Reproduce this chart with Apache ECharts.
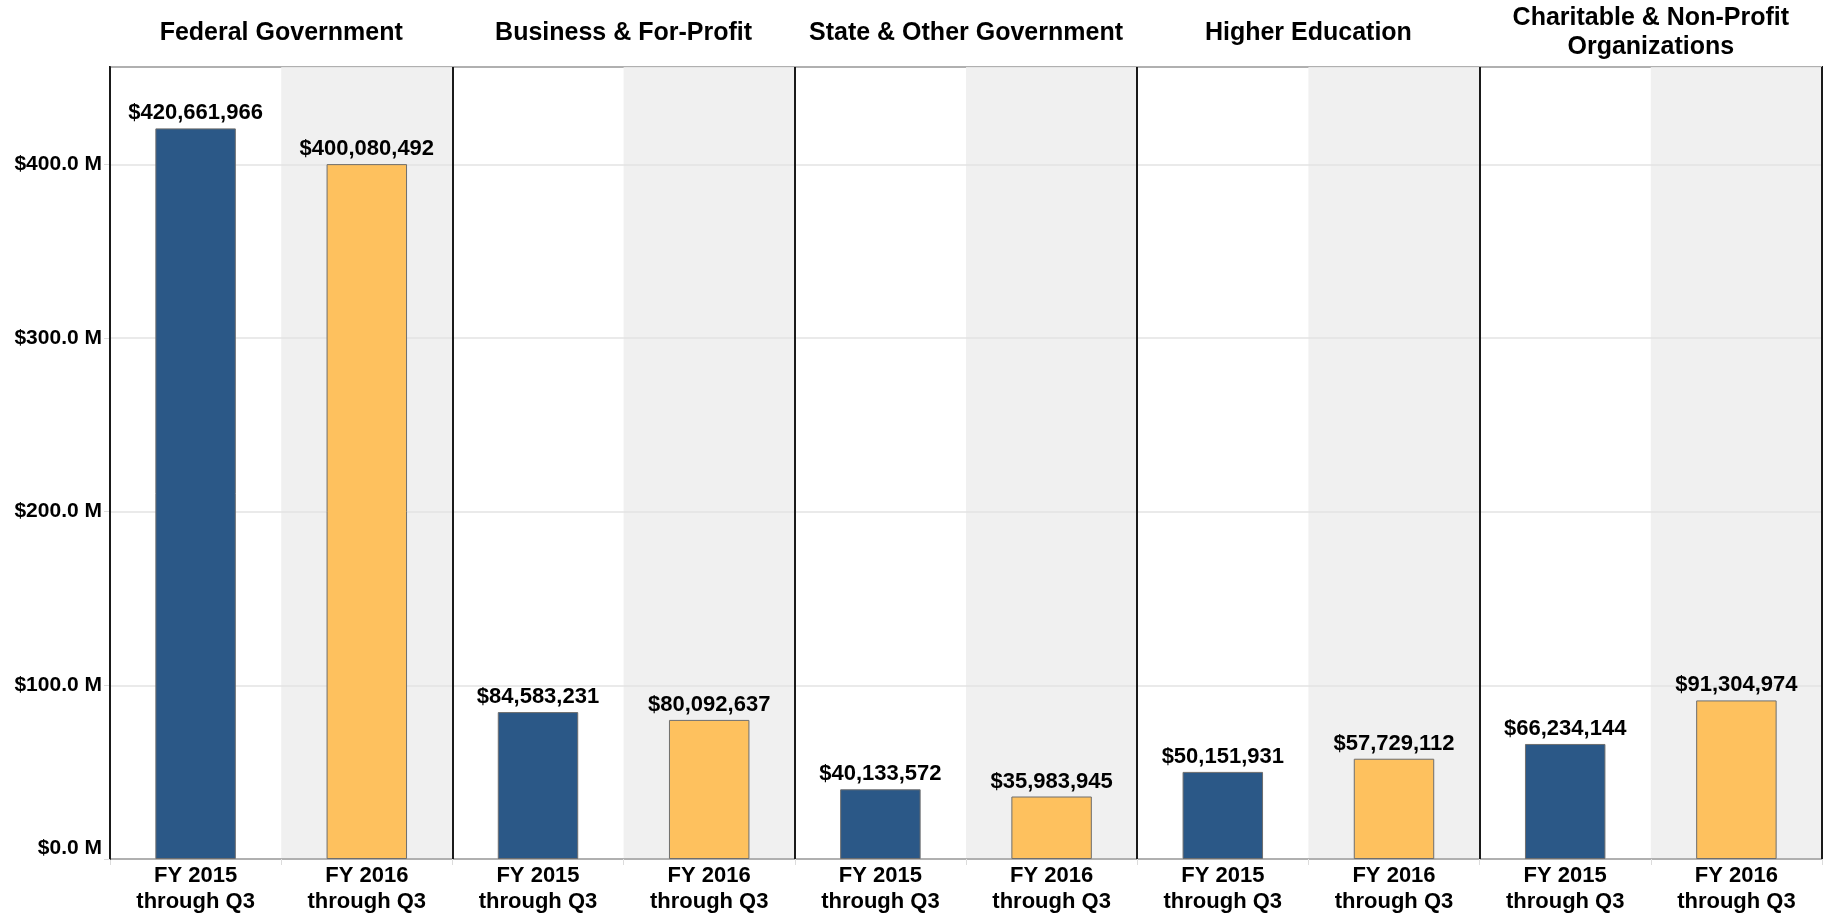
<!DOCTYPE html>
<html>
<head>
<meta charset="utf-8">
<script src="https://cdn.jsdelivr.net/npm/echarts@6/dist/echarts.min.js"></script>
<style>html,body{margin:0;padding:0;background:#fff}#c{width:1827px;height:915px}</style>
</head>
<body>
<div id="c"></div>
<script>
const panels = ['Federal Government', 'Business & For-Profit', 'State & Other Government', 'Higher Education', 'Charitable & Non-Profit\nOrganizations'];
const periods = ['FY 2015\nthrough Q3', 'FY 2016\nthrough Q3'];
const fy2015 = [420661966, 84583231, 40133572, 50151931, 66234144];
const fy2016 = [400080492, 80092637, 35983945, 57729112, 91304974];
const yTicks = [0, 100e6, 200e6, 300e6, 400e6];

const BLUE = '#2b5887';
const ORANGE = '#fec15e';
const FONT = '"Liberation Sans", Arial, sans-serif';

const categories = [];
const barData = [];
panels.forEach((p, i) => {
  categories.push(p + '|0');
  barData.push({ value: fy2015[i], itemStyle: { color: BLUE } });
  categories.push(p + '|1');
  barData.push({ value: fy2016[i], itemStyle: { color: ORANGE } });
});

const chart = echarts.init(document.getElementById('c'), null, { renderer: 'canvas' });
chart.setOption({
  backgroundColor: '#fff',
  animation: false,
  textStyle: { fontFamily: FONT },
  grid: {
    left: 110, right: 5, top: 67, bottom: 55,
    show: true, borderColor: '#1a1a1a', borderWidth: 2, backgroundColor: 'transparent'
  },
  xAxis: [
    {
      type: 'category',
      data: categories,
      position: 'bottom',
      z: 0,
      axisLine: { show: true, lineStyle: { color: '#1a1a1a', width: 2 } },
      axisTick: { show: true, interval: 0, length: 6, lineStyle: { color: '#dcdcdc' } },
      axisLabel: {
        interval: 0, margin: 4,
        formatter: v => periods[+v.split('|')[1]],
        color: '#000', fontWeight: 'bold', fontSize: 22, lineHeight: 26, fontFamily: FONT
      },
      splitLine: { show: false },
      splitArea: { show: true, interval: 0, areaStyle: { color: ['rgba(255,255,255,0)', '#f0f0f0'] } }
    },
    {
      type: 'category',
      data: panels,
      position: 'top',
      z: 3,
      axisLine: { show: false },
      axisTick: { show: false },
      axisLabel: {
        interval: 0, margin: 34, verticalAlign: 'middle',
        color: '#000', fontWeight: 'bold', fontSize: 25, lineHeight: 29, fontFamily: FONT
      },
      splitLine: { show: true, interval: 0, lineStyle: { color: '#1a1a1a', width: 2 } }
    }
  ],
  yAxis: {
    type: 'value',
    min: 0, max: 456e6, interval: 100e6,
    z: 1,
    axisLine: { show: true, lineStyle: { color: '#1a1a1a', width: 2 } },
    axisTick: { show: true, length: 6, lineStyle: { color: '#dcdcdc' } },
    axisLabel: {
      showMaxLabel: false,
      verticalAlignMinLabel: 'bottom',
      margin: 8,
      formatter: v => yTicks.indexOf(v) >= 0 ? '$' + (v / 1e6).toFixed(1) + ' M' : '',
      color: '#000', fontWeight: 'bold', fontSize: 21, fontFamily: FONT
    },
    splitLine: { show: true, lineStyle: { color: '#e3e3e3', width: 1.5 } }
  },
  series: [{
    type: 'bar',
    xAxisIndex: 0,
    data: barData,
    barWidth: '47%',
    z: 5,
    itemStyle: { borderColor: '#6e6e6e', borderWidth: 1 },
    label: {
      show: true, position: 'top', distance: 4,
      formatter: p => '$' + p.value.toLocaleString('en-US'),
      color: '#000', fontWeight: 'bold', fontSize: 22, fontFamily: FONT
    }
  }]
});
</script>
</body>
</html>
